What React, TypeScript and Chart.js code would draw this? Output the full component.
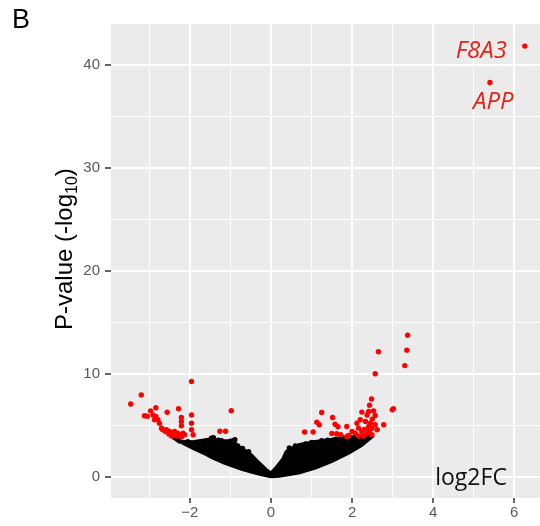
import React, { useEffect, useRef } from "react";
import { Chart, registerables } from "chart.js";

Chart.register(...registerables);

// ---- axis ranges / ticks ----
const X_MIN = -3.946;
const X_MAX = 6.634;
const Y_MIN = -2.07;
const Y_MAX = 44.0;
const X_TICKS = [-3, -2, -1, 0, 1, 2, 3, 4, 5, 6];
const X_LABELED = [-2, 0, 2, 4, 6];
const Y_TICKS = [0, 5, 10, 15, 20, 25, 30, 35, 40];
const Y_LABELED = [0, 10, 20, 30, 40];

// ---- dense non-significant mass (outline of the black point cloud) ----
const massX = [
  -2.42, -2.2, -1.92, -1.6, -1.43, -1.2, -0.93, -0.7, -0.44, -0.2, 0.0,
  0.2, 0.68, 1.09, 1.5, 1.91, 2.24, 2.45, 2.5,
  2.45, 2.16, 1.83, 1.5, 1.09, 0.68, 0.51, 0.38, 0.3, 0.12, 0.0,
  -0.12, -0.31, -0.48, -0.64, -0.8, -0.95, -1.22, -1.47, -1.92, -2.25, -2.42,
];
const massY = [
  3.85, 3.35, 2.8, 2.2, 1.85, 1.45, 1.05, 0.75, 0.45, 0.2, 0.05,
  0.1, 0.4, 0.88, 1.53, 2.33, 3.1, 3.8, 3.95,
  3.98, 3.85, 3.82, 3.6, 3.38, 3.05, 2.72, 2.4, 1.7, 0.8, 0.3,
  0.65, 1.35, 2.05, 2.5, 2.9, 3.45, 3.45, 3.65, 3.35, 3.4, 3.85,
];

// ---- individual non-significant points on the edge of the cloud ----
const grayX = [
  -2.05, -1.7, -1.47, -1.42, -1.3, -1.22, -1.0, -0.93, -0.89, -0.82, -0.7, -0.55,
  0.45, 0.6, 0.85, 1.0, 1.25, 1.4, 1.6, 1.75, 1.95, 2.1, 2.3,
];
const grayY = [
  3.4, 3.4, 3.75, 3.8, 3.55, 3.5, 3.45, 3.5, 3.6, 3.0, 2.75, 2.45,
  2.8, 3.0, 3.2, 3.35, 3.5, 3.55, 3.65, 3.8, 3.85, 3.9, 3.95,
];

// ---- significant points (red) ----
const sigX = [
  -3.46, -3.2, -3.12, -3.05, -2.97, -2.84, -2.91, -2.84, -2.87, -2.79, -2.75, -2.56,
  -2.28, -2.21, -2.21, -2.21, -1.96, -1.96, -1.96, -1.96, -1.92, -0.98, -1.26, -1.12,
  -2.7, -2.67, -2.58, -2.5, -2.46, -2.38, -2.3, -2.42, -2.33, -2.25, -2.17, -2.13,
  -2.21, -2.6, -2.52, -2.45,
  3.37, 3.35, 3.3, 2.65, 2.57, 2.48, 2.43, 2.41, 2.53, 2.37, 2.57, 2.99, 3.02, 2.2,
  2.24, 1.25, 1.52, 1.13, 1.19, 0.83, 1.04, 1.58, 1.65, 1.87, 1.5, 1.62, 1.72, 2.12,
  2.16, 2.33, 2.41, 2.49, 2.57, 2.62, 2.78, 2.24, 2.37, 2.08, 2.0, 1.91, 2.49, 2.16,
  2.29, 1.87, 2.43, 2.3, 2.45, 2.5,
  6.26, 5.4,
];
const sigY = [
  7.06, 7.95, 5.93, 5.88, 6.4, 6.7, 6.0, 5.85, 5.53, 5.53, 5.2, 6.26,
  6.6, 5.75, 5.37, 4.95, 9.25, 6.0, 5.2, 4.56, 4.08, 6.42, 4.42, 4.42,
  4.72, 4.56, 4.56, 4.4, 4.24, 4.4, 4.24, 4.08, 3.95, 4.08, 4.24, 4.08,
  3.85, 4.4, 4.15, 3.95,
  13.75, 12.3, 10.8, 12.15, 10.0, 7.55, 6.95, 6.34, 6.4, 6.0, 5.95, 6.5, 6.62, 5.53,
  6.28, 6.24, 5.76, 5.3, 5.05, 4.34, 4.34, 5.1, 4.85, 4.88, 4.2, 4.17, 4.08, 5.2,
  4.72, 5.37, 4.88, 4.72, 5.05, 4.56, 5.05, 4.4, 4.24, 4.24, 4.4, 4.01, 4.08, 3.95,
  3.95, 3.9, 4.5, 4.6, 5.2, 5.6,
  41.85, 38.32,
];

// ---- gene labels ----
const geneNames = ["F8A3", "APP"];
const geneLabelX = [5.82, 4.98];
const geneLabelY = [40.69, 35.7];
const geneAlign: CanvasTextAlign[] = ["right", "left"];

const toPts = (xs: number[], ys: number[]) => xs.map((x, i) => ({ x, y: ys[i] }));
const fmt = (v: number) => (v < 0 ? "\u2212" + Math.abs(v) : String(v));

const SANS = "'Liberation Sans', Arial, Helvetica, sans-serif";

const panelBg = {
  id: "panelBg",
  beforeDraw(chart: any) {
    const { ctx, chartArea: a } = chart;
    ctx.save();
    ctx.fillStyle = "#FFFFFF";
    ctx.fillRect(0, 0, chart.width, chart.height);
    ctx.fillStyle = "#EBEBEB";
    ctx.fillRect(a.left, a.top, a.right - a.left, a.bottom - a.top);
    ctx.restore();
  },
};

const texts = {
  id: "texts",
  afterDraw(chart: any) {
    const { ctx, scales } = chart;
    ctx.save();
    // panel tag
    ctx.fillStyle = "#000";
    ctx.textBaseline = "alphabetic";
    ctx.textAlign = "left";
    ctx.font = `27px ${SANS}`;
    ctx.fillText("B", 12, 28);

    // y axis title with subscript
    ctx.save();
    ctx.translate(72, 330);
    ctx.rotate(-Math.PI / 2);
    ctx.font = `24px ${SANS}`;
    const a = "P-value (-log";
    ctx.fillText(a, 0, 0);
    let w = ctx.measureText(a).width;
    ctx.font = `16px ${SANS}`;
    ctx.fillText("10", w, 5);
    w += ctx.measureText("10").width;
    ctx.font = `24px ${SANS}`;
    ctx.fillText(")", w, 0);
    ctx.restore();

    // x axis title inside panel
    ctx.font = "23px 'Open Sans', 'Liberation Sans', sans-serif";
    ctx.fillStyle = "#111";
    ctx.textAlign = "left";
    ctx.fillText("log2FC", scales.x.getPixelForValue(4.05), scales.y.getPixelForValue(-0.85));

    // gene labels
    ctx.font = "italic 24px 'Open Sans', 'Liberation Sans', sans-serif";
    ctx.fillStyle = "#E2231A";
    geneNames.forEach((g, i) => {
      ctx.textAlign = geneAlign[i];
      ctx.fillText(g, scales.x.getPixelForValue(geneLabelX[i]), scales.y.getPixelForValue(geneLabelY[i]));
    });
    ctx.restore();
  },
};

export default function App() {
  const ref = useRef<HTMLCanvasElement | null>(null);
  useEffect(() => {
    if (!ref.current) return;
    const chart = new Chart(ref.current, {
      type: "scatter",
      data: {
        datasets: [
          {
            type: "line",
            data: toPts(massX, massY),
            borderColor: "#000",
            backgroundColor: "#000",
            borderWidth: 4,
            borderJoinStyle: "round",
            pointRadius: 0,
            tension: 0,
            fill: "shape",
            order: 3,
          } as any,
          {
            data: toPts(grayX, grayY),
            backgroundColor: "#000",
            borderWidth: 0,
            pointRadius: 2.6,
            order: 2,
          },
          {
            data: toPts(sigX, sigY),
            backgroundColor: "#FF0000",
            borderWidth: 0,
            pointRadius: 2.7,
            order: 1,
          },
        ],
      },
      options: {
        responsive: false,
        maintainAspectRatio: false,
        animation: false,
        devicePixelRatio: 1,
        layout: { autoPadding: false, padding: { top: 24, left: 0, right: 0, bottom: 0 } },
        plugins: { legend: { display: false }, tooltip: { enabled: false } },
        scales: {
          x: {
            type: "linear",
            min: X_MIN,
            max: X_MAX,
            afterBuildTicks: (s: any) => {
              s.ticks = X_TICKS.map((v) => ({ value: v }));
            },
            afterFit: (s: any) => {
              s.height = 28;
              s.paddingLeft = 0;
              s.paddingRight = 0;
            },
            border: { display: false },
            grid: {
              color: "#FFFFFF",
              lineWidth: (c: any) => (X_LABELED.includes(c.tick?.value) ? 2 : 1),
              drawTicks: true,
              tickLength: 5,
              tickWidth: 1.5,
              tickColor: (c: any) => (X_LABELED.includes(c.tick?.value) ? "#333333" : "rgba(0,0,0,0)"),
            },
            ticks: {
              autoSkip: false,
              maxRotation: 0,
              padding: 1,
              color: "#595959",
              font: { family: SANS, size: 15 },
              callback: (v: any) => (X_LABELED.includes(Number(v)) ? fmt(Number(v)) : ""),
            },
          },
          y: {
            type: "linear",
            min: Y_MIN,
            max: Y_MAX,
            afterBuildTicks: (s: any) => {
              s.ticks = Y_TICKS.map((v) => ({ value: v }));
            },
            afterFit: (s: any) => {
              s.width = 111;
            },
            border: { display: false },
            grid: {
              color: "#FFFFFF",
              lineWidth: (c: any) => (Y_LABELED.includes(c.tick?.value) ? 2 : 1),
              drawTicks: true,
              tickLength: 6,
              tickWidth: 1.5,
              tickColor: (c: any) => (Y_LABELED.includes(c.tick?.value) ? "#333333" : "rgba(0,0,0,0)"),
            },
            ticks: {
              autoSkip: false,
              padding: 5,
              color: "#595959",
              font: { family: SANS, size: 15 },
              callback: (v: any) => (Y_LABELED.includes(Number(v)) ? fmt(Number(v)) : ""),
            },
          },
        },
      },
      plugins: [panelBg, texts],
    });
    return () => chart.destroy();
  }, []);

  return (
    <div style={{ position: "fixed", left: 0, top: 0, width: 540, height: 526, background: "#fff" }}>
      <canvas ref={ref} width={540} height={526} style={{ display: "block", width: 540, height: 526 }} />
    </div>
  );
}
